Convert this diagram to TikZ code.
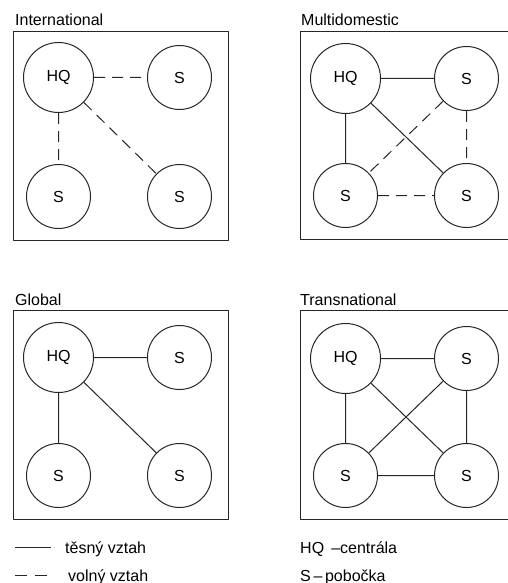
\documentclass[tikz,border=0pt]{standalone}
\usepackage{fontspec}
\setmainfont{Liberation Sans}
\tikzset{
	hq/.style={draw=black!85, line width=1pt, circle, minimum size=70pt, inner sep=0pt},
	sub/.style={draw=black!85, line width=1pt, circle, minimum size=64pt, inner sep=0pt},
	tight/.style={draw=black!85, line width=1pt},
	loose/.style={draw=black!85, line width=1pt, dash pattern=on 11pt off 7pt},
	frame/.style={draw=black!85, line width=1pt},
	txt/.style={anchor=base west, inner sep=0pt}
}
\begin{document}
\begin{tikzpicture}[x=1pt, y=-1pt, font=\fontsize{16}{19}\selectfont, line join=round]
	\useasboundingbox (0,0) rectangle (507,583);
	% International
	\begin{scope}[shift={(13.5,31.5)}]
		\node[txt] (iTitle) at (1.5,-6) {International};
		\draw[frame] (0,0) rectangle (215,209);
		\node[hq] (iHQ) at (45,46) {HQ};
		\node[sub] (iS1) at (166,46) {S};
		\node[sub] (iS2) at (45,165) {S};
		\node[sub] (iS3) at (166,165) {S};
		\draw[loose] (iHQ)--(iS1) (iHQ)--(iS2) (iHQ)--(iS3);
	\end{scope}
	% Multidomestic
	\begin{scope}[shift={(300.5,31.5)}]
		\node[txt] (mTitle) at (0.5,-5.5) {Multidomestic};
		\draw[frame] (0,0) rectangle (215,208);
		\node[hq] (mHQ) at (45,47) {HQ};
		\node[sub] (mS1) at (166,47) {S};
		\node[sub] (mS2) at (45,164) {S};
		\node[sub] (mS3) at (166,164) {S};
		\draw[tight] (mHQ)--(mS1) (mHQ)--(mS2) (mHQ)--(mS3);
		\draw[loose] (mS1)--(mS2) (mS1)--(mS3) (mS2)--(mS3);
	\end{scope}
	% Global
	\begin{scope}[shift={(13.5,310.5)}]
		\node[txt] (gTitle) at (1.5,-5) {Global};
		\draw[frame] (0,0) rectangle (215,209);
		\node[hq] (gHQ) at (45,47) {HQ};
		\node[sub] (gS1) at (166,47) {S};
		\node[sub] (gS2) at (45,165) {S};
		\node[sub] (gS3) at (166,165) {S};
		\draw[tight] (gHQ)--(gS1) (gHQ)--(gS2) (gHQ)--(gS3);
	\end{scope}
	% Transnational
	\begin{scope}[shift={(300.5,310.5)}]
		\node[txt] (tTitle) at (-0.5,-5) {Transnational};
		\draw[frame] (0,0) rectangle (215,209);
		\node[hq] (tHQ) at (45,48) {HQ};
		\node[sub] (tS1) at (166,48) {S};
		\node[sub] (tS2) at (45,165) {S};
		\node[sub] (tS3) at (166,165) {S};
		\draw[tight] (tHQ)--(tS1) (tHQ)--(tS2) (tHQ)--(tS3)
			(tS1)--(tS2) (tS1)--(tS3) (tS2)--(tS3);
	\end{scope}
	% legend
	\coordinate (solidA) at (15,547.5);
	\coordinate (solidB) at (51,547.5);
	\coordinate (looseA) at (15,575.5);
	\coordinate (looseB) at (51,575.5);
	\draw[tight] (solidA)--(solidB);
	\draw[tight, dash pattern=on 12pt off 8pt] (looseA)--(looseB);
	\node[txt] (solidText) at (65,553) {těsný vztah};
	\node[txt] (looseText) at (68,581) {volný vztah};
	\node[txt] (hqText) at (300,553) {HQ \,--centrála};
	\node[txt] (sText) at (300,581) {S\,--\,pobočka};
\end{tikzpicture}
\end{document}
